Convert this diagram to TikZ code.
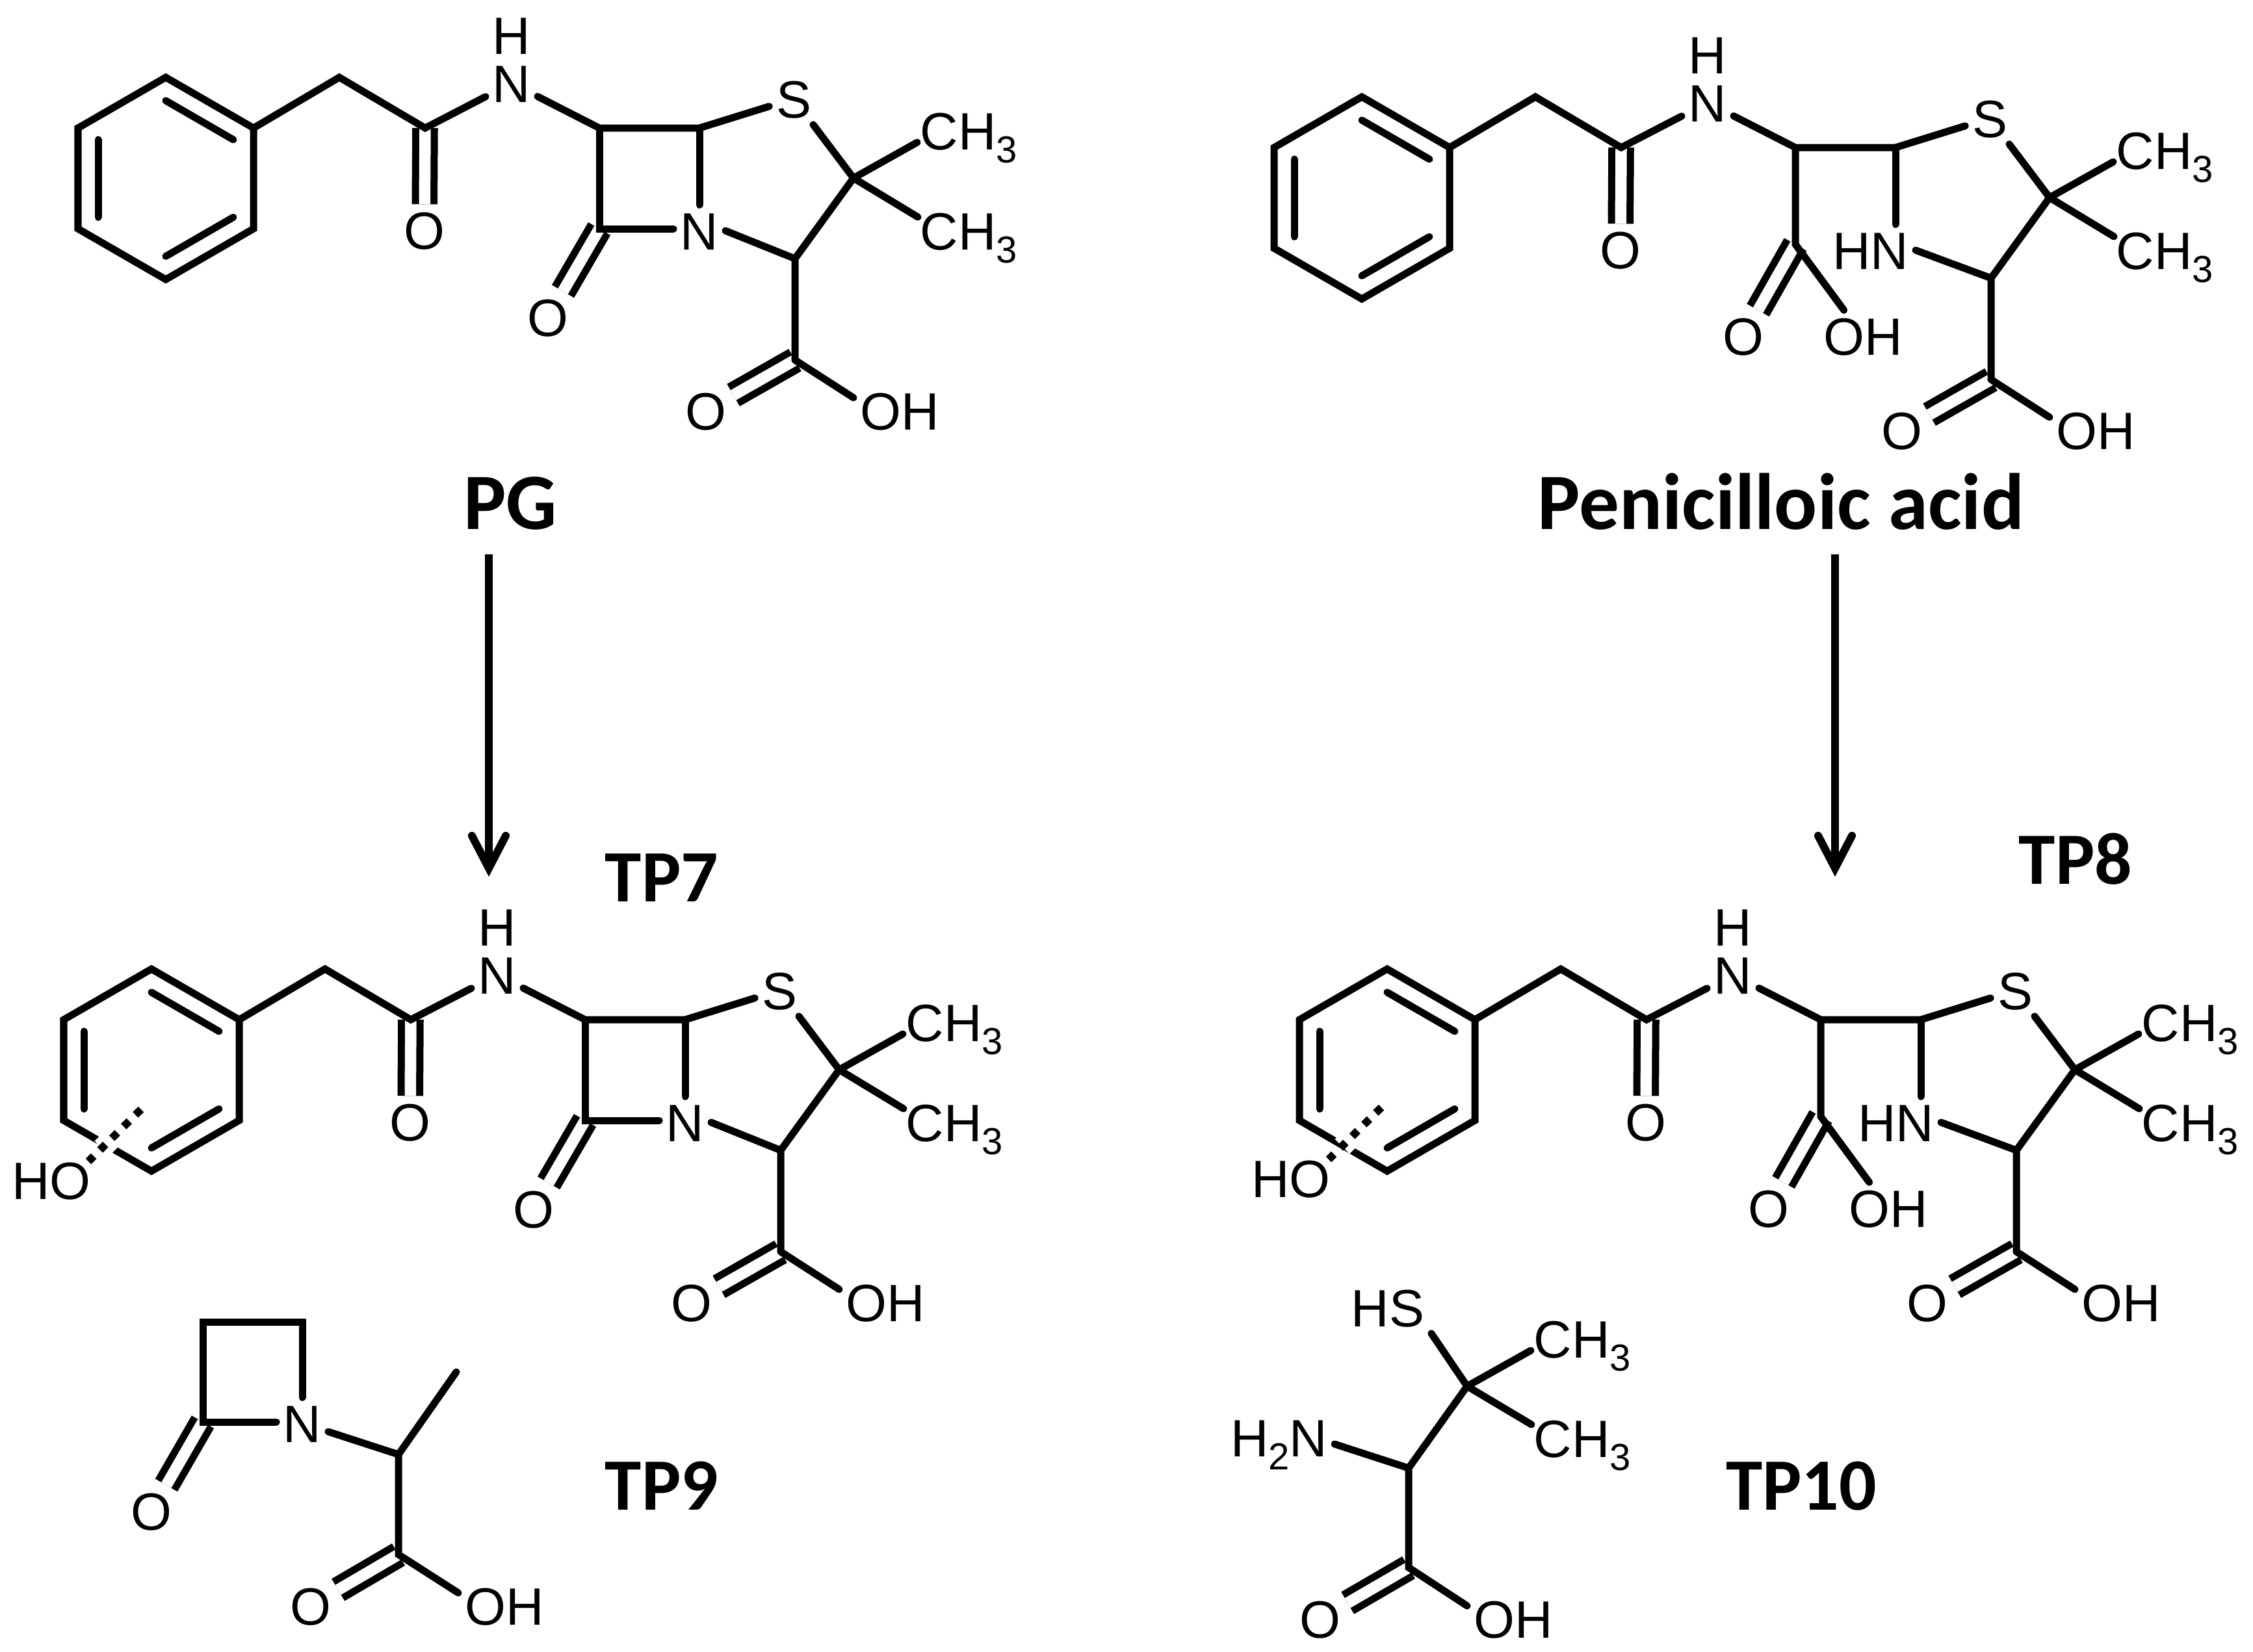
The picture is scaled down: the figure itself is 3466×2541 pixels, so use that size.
\documentclass[tikz,border=0pt]{standalone}
\usepackage{fontspec}
\setmainfont{Liberation Sans}
\newfontfamily\labelfont{Carlito}[BoldFont={Carlito Bold}]
\usetikzlibrary{calc,arrows.meta}
\newcommand{\subd}[1]{\raisebox{-0.25em}{\fontsize{16.5}{16.5}\selectfont #1}}
\tikzset{
  atom/.style={inner sep=0.1cm,text height=0.58cm,text depth=0pt,font=\fontsize{23}{23}\selectfont,text=black},
  atomw/.style={atom,anchor=west},
  bond/.style={line width=0.11cm,line cap=round,line join=miter,draw=black},
  dbl/.style={line width=0.11cm,double=white,double distance=0.175cm,line cap=butt,draw=black},
  hashed/.style={line width=0.12cm,line cap=butt,dash pattern=on 0.12cm off 0.136cm,draw=black},
  halo/.style={line width=0.32cm,line cap=butt,draw=white},
  cname/.style={inner sep=0pt,text height=0.79cm,text depth=0pt,font=\labelfont\bfseries\fontsize{35}{35}\selectfont,text=black},
  tpname/.style={inner sep=0pt,text height=0.68cm,text depth=0pt,font=\labelfont\bfseries\fontsize{32.3}{32.3}\selectfont,text=black},
  react/.style={line width=0.12cm,draw=black,-{Straight Barb[length=0.5cm,width=0.52cm,line width=0.12cm,line cap=round,line join=miter]}}
}
% shared skeleton; #1 = node of the ring nitrogen
\newcommand{\penbase}[1]{
  \coordinate (top) at (255,119);
  \coordinate (tr) at (390,197);
  \coordinate (br) at (390,352);
  \coordinate (bot) at (255,430);
  \coordinate (bl) at (120,352);
  \coordinate (tl) at (120,197);
  \coordinate (ctr) at (255,275);
  \coordinate (ch2) at (522,119);
  \coordinate (co) at (654,197);
  \coordinate (ca) at (922,197);
  \coordinate (cb) at (1076,197);
  \coordinate (cq) at (1313,274);
  \coordinate (c3) at (1223,398);
  \coordinate (cx) at (1223,554);
  \node[atom] (o1) at (653,354) {O};
  \node[atom] (n1) at (787,128) {N};
  \node[atom] (h1) at (787,54) {H};
  \node[atom] (s1) at (1221,152) {S};
  \node[atomw] (m1) at (1405,201) {CH\subd{3}};
  \node[atomw] (m2) at (1405,355) {CH\subd{3}};
  #1
  \node[atom] (o2) at (1086,632) {O};
  \node[atomw] (oh) at (1313,632) {OH};
  \draw[dbl] (co) -- (o1);
  \draw[dbl] (cx) -- (o2);
  \draw[bond] (top) -- (tr) -- (br) -- (bot) -- (bl) -- (tl) -- cycle;
  \draw[bond] ($(top)!.23!(ctr)$) -- ($(tr)!.23!(ctr)$);
  \draw[bond] ($(tl)!.23!(ctr)$) -- ($(bl)!.23!(ctr)$);
  \draw[bond] ($(br)!.23!(ctr)$) -- ($(bot)!.23!(ctr)$);
  \draw[bond] (tr) -- (ch2) -- (co) -- (n1);
  \draw[bond] (n1) -- (ca) -- (cb) -- (s1);
  \draw[bond] (s1) -- (cq) -- (c3) -- (cx);
  \draw[bond] (cq) -- ([xshift=0.06cm,yshift=-0.18cm]m1.west);
  \draw[bond] (cq) -- ([xshift=0.07cm,yshift=0.21cm]m2.west);
  \draw[bond] (cb) -- (cb |- n2.north);
  \draw[bond] (c3) -- (n2.east);
  \draw[bond] (cx) -- ([yshift=0.2cm]oh.west);
}
\newcommand{\lactamN}{\node[atom] (n2) at (1076,355) {N};}
\newcommand{\openN}{\node[atom,anchor=east] (n2) at (1107,355) {HN};}
\newcommand{\lactam}{
  \coordinate (cl) at (922,352);
  \node[atom] (o3) at (843,488) {O};
  \draw[dbl] (cl) -- (o3);
  \draw[bond] (ca) -- (cl) -- (cl -| n2.west);
}
\newcommand{\opened}{
  \coordinate (cy) at (922,346);
  \node[atom] (o3) at (842,487) {O};
  \node[atom] (oh2) at (1026,487) {OH};
  \draw[dbl] (cy) -- (o3);
  \draw[bond] (ca) -- (cy) -- (oh2);
}
\begin{document}
\begin{tikzpicture}[x=0.01cm,y=-0.01cm]
\useasboundingbox (0,0) rectangle (3466,2541);
% PG
\begin{scope}[name prefix=pg-]
  \penbase{\lactamN}
  \lactam
\end{scope}
% Penicilloic acid
\begin{scope}[shift={(1840,30)},name prefix=pa-]
  \penbase{\openN}
  \opened
\end{scope}
% TP7
\begin{scope}[shift={(-22,1372)},name prefix=tpa-]
  \penbase{\lactamN}
  \lactam
  \coordinate (ds) at (239,335);
  \coordinate (de) at (158,415);
  \coordinate (hs) at (211,363);
  \coordinate (he) at (179,395);
  \draw[halo] (hs) -- (he);
  \draw[hashed] (ds) -- (de);
  \node[atom] (ho) at (101,444) {HO};
\end{scope}
% TP8
\begin{scope}[shift={(1879,1372)},name prefix=tpb-]
  \penbase{\openN}
  \opened
  \coordinate (ds) at (246,332);
  \coordinate (de) at (165,412);
  \coordinate (hs) at (218,360);
  \coordinate (he) at (186,392);
  \draw[halo] (hs) -- (he);
  \draw[hashed] (ds) -- (de);
  \node[atom] (ho) at (107,441) {HO};
\end{scope}
% TP9
\begin{scope}[name prefix=tpc-]
  \coordinate (tl) at (312,2034);
  \coordinate (tr) at (465,2034);
  \coordinate (cl) at (312,2188);
  \coordinate (ca) at (613,2238);
  \coordinate (me) at (702,2111);
  \coordinate (cx) at (613,2392);
  \node[atom] (n) at (465,2190) {N};
  \node[atom] (o1) at (233,2325) {O};
  \node[atom] (o2) at (478,2471) {O};
  \node[atomw] (oh) at (705,2471) {OH};
  \draw[dbl] (cl) -- (o1);
  \draw[dbl] (cx) -- (o2);
  \draw[bond] (n.north) -- (tr) -- (tl) -- (cl) -- (cl -| n.west);
  \draw[bond] (n) -- (ca) -- (me);
  \draw[bond] (ca) -- (cx) -- ([yshift=0.2cm]oh.west);
\end{scope}
% TP10
\begin{scope}[name prefix=tpd-]
  \coordinate (cq) at (2257,2133);
  \coordinate (ca) at (2167,2259);
  \coordinate (cx) at (2167,2412);
  \node[atom] (hs) at (2135,2012) {HS};
  \node[atomw] (m1) at (2349,2060) {CH\subd{3}};
  \node[atomw] (m2) at (2349,2213) {CH\subd{3}};
  \node[atom,anchor=east] (am) at (2053,2212) {H\subd{2}N};
  \node[atom] (o1) at (2031,2491) {O};
  \node[atomw] (oh) at (2257,2491) {OH};
  \draw[dbl] (cx) -- (o1);
  \draw[bond] (hs.south east) -- (cq) -- (ca) -- (cx) -- ([yshift=0.2cm]oh.west);
  \draw[bond] (cq) -- ([xshift=0.06cm,yshift=-0.18cm]m1.west);
  \draw[bond] (cq) -- ([xshift=0.07cm,yshift=0.21cm]m2.west);
  \draw[bond] (ca) -- ([yshift=-0.1cm]am.east);
\end{scope}
% labels
\node[cname] (lpg) at (785,775) {PG};
\node[cname] (lpa) at (2740,775) {Penicilloic acid};
\node[tpname] (l7) at (1018,1353) {TP7};
\node[tpname] (l8) at (3193,1326) {TP8};
\node[tpname] (l9) at (1018,2289) {TP9};
\node[tpname] (l10) at (2771,2289) {TP10};
% arrows
\coordinate (a1s) at (752,853);
\coordinate (a1e) at (752,1349);
\coordinate (a2s) at (2823,853);
\coordinate (a2e) at (2823,1349);
\draw[react] (a1s) -- (a1e);
\draw[react] (a2s) -- (a2e);
\end{tikzpicture}
\end{document}
